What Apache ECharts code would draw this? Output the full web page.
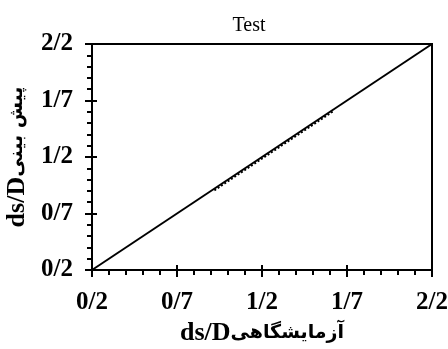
<!DOCTYPE html>
<html>
<head>
<meta charset="utf-8">
<script src="https://cdn.jsdelivr.net/npm/echarts@6/dist/echarts.min.js"></script>
<style>
  html, body { margin: 0; padding: 0; background: #fff; }
  #chart { width: 448px; height: 349px; }
</style>
</head>
<body>
<div id="chart"></div>
<script>
// Axis ticks (both axes share the same range)
const majorTicks = [0.2, 0.7, 1.2, 1.7, 2.2];
const minorTicks = [0.3, 0.4, 0.5, 0.6, 0.8, 0.9, 1.0, 1.1, 1.3, 1.4, 1.5, 1.6, 1.8, 1.9, 2.0, 2.1];

// 1:1 reference line
const lineX = [0.2, 2.2];
const lineY = [0.2, 2.2];

// Measured vs predicted ds/D
const measured  = [0.92, 1.00, 1.08, 1.16, 1.24, 1.32, 1.40, 1.48, 1.56, 1.62];
const predicted = [0.905, 0.986, 1.066, 1.146, 1.226, 1.306, 1.386, 1.466, 1.546, 1.606];

const SERIF = 'Liberation Serif, Times New Roman, DejaVu Sans, serif';
const fmt = v => v.toFixed(1).replace('.', '/');

const nameRich = {
  lat: { color: '#000', fontFamily: SERIF, fontWeight: 'bold', fontSize: 26 },
  fa:  { color: '#000', fontFamily: 'DejaVu Sans, sans-serif', fontWeight: 'bold', fontSize: 19 }
};

function axisSet(dim) {
  const base = { type: 'value', min: 0.2, max: 2.2, gridIndex: 0, splitLine: { show: false } };
  const pos = dim === 'x' ? 'bottom' : 'left';
  const main = Object.assign({}, base, {
    position: pos,
    axisLine: { show: true, lineStyle: { color: '#000', width: 2 } },
    axisTick: { show: true, customValues: majorTicks, length: 7, lineStyle: { color: '#000', width: 2 } },
    axisLabel: {
      show: true, customValues: majorTicks, formatter: fmt, margin: dim === 'x' ? 20 : 19,
      color: '#000', fontFamily: SERIF, fontWeight: 'bold', fontSize: 25
    },
    name: dim === 'x' ? '{lat|ds/D}{fa|آزمایشگاهی}' : '{lat|ds/D}{fa|پیش بینی}',
    nameLocation: 'middle',
    nameGap: dim === 'x' ? 43 : 55,
    nameTextStyle: { color: '#000', fontFamily: SERIF, fontWeight: 'bold', fontSize: 22, rich: nameRich }
  });
  const minor = Object.assign({}, base, {
    position: pos,
    axisLine: { show: false },
    axisTick: { show: true, customValues: minorTicks, length: 5, lineStyle: { color: '#000', width: 2 } },
    axisLabel: { show: false }
  });
  const inner = Object.assign({}, base, {
    position: pos,
    axisLine: { show: false },
    axisTick: { show: true, inside: true, customValues: majorTicks, length: 5, lineStyle: { color: '#000', width: 2 } },
    axisLabel: { show: false }
  });
  return [main, minor, inner];
}

const chart = echarts.init(document.getElementById('chart'), null, { renderer: 'canvas' });
chart.setOption({
  animation: false,
  backgroundColor: '#fff',
  grid: {
    left: 92, right: 16, top: 44, bottom: 79,
    containLabel: false, outerBoundsMode: 'none',
    show: true, borderColor: '#000', borderWidth: 2, backgroundColor: 'transparent'
  },
  graphic: [{
    type: 'text', x: 249, y: 16,
    style: { text: 'Test', fill: '#000', font: '20px ' + SERIF, textAlign: 'center' }
  }],
  xAxis: axisSet('x'),
  yAxis: axisSet('y'),
  series: [
    {
      type: 'line', xAxisIndex: 0, yAxisIndex: 0, symbol: 'none',
      data: lineX.map((x, i) => [x, lineY[i]]),
      lineStyle: { color: '#000', width: 2 }
    },
    {
      type: 'line', xAxisIndex: 0, yAxisIndex: 0, symbol: 'none',
      data: measured.map((x, i) => [x, predicted[i]]),
      lineStyle: { color: '#000', width: 2, type: 'dotted' }
    }
  ]
});
</script>
</body>
</html>
